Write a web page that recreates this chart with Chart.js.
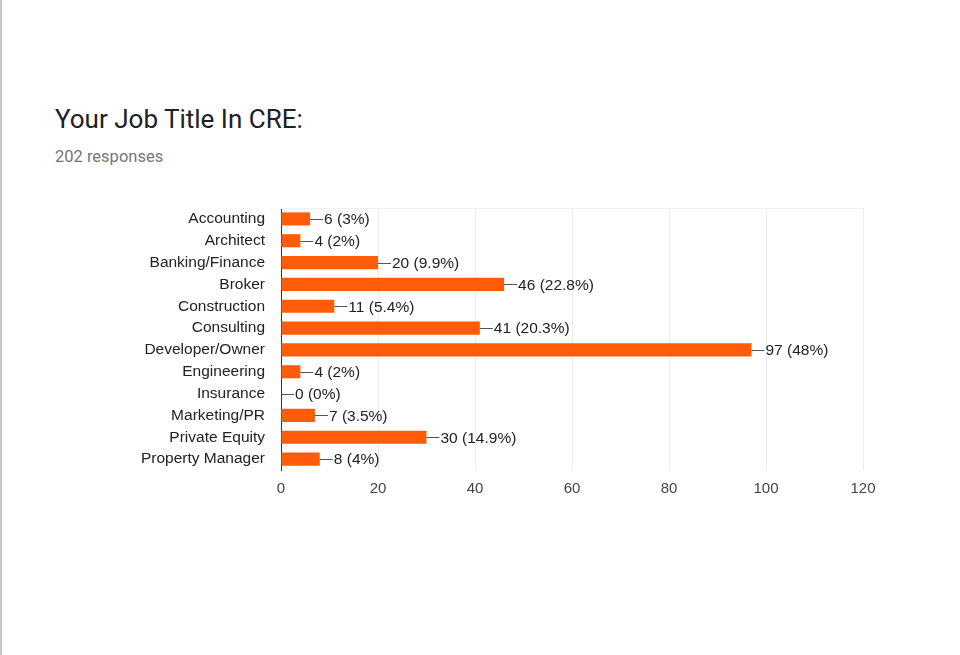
<!DOCTYPE html>
<html>
<head>
<meta charset="utf-8">
<title>Your Job Title In CRE:</title>
<script src="https://cdn.jsdelivr.net/npm/chart.js@4.4.1/dist/chart.umd.min.js"></script>
<style>
  html, body { margin: 0; padding: 0; background: #fff; }
  body { width: 960px; height: 655px; position: relative; overflow: hidden; }
  .edge { position: absolute; left: 0; top: 0; width: 2px; height: 655px; background: #c8c8c8; }
  .title { position: absolute; left: 55px; top: 104px; font: 26px Roboto, Arial, sans-serif; color: #202124; }
  .sub { position: absolute; left: 55px; top: 147px; font: 16.5px Roboto, Arial, sans-serif; color: #757575; }
  #wrap { position: absolute; left: 0; top: 0; width: 960px; height: 655px; }
</style>
</head>
<body>
<div class="edge"></div>
<div class="title">Your Job Title In CRE:</div>
<div class="sub">202 responses</div>
<div id="wrap"><canvas id="chart"></canvas></div>
<script>
const categories = ['Accounting', 'Architect', 'Banking/Finance', 'Broker', 'Construction', 'Consulting',
  'Developer/Owner', 'Engineering', 'Insurance', 'Marketing/PR', 'Private Equity', 'Property Manager'];
const counts = [6, 4, 20, 46, 11, 41, 97, 4, 0, 7, 30, 8];
const percents = ['3%', '2%', '9.9%', '22.8%', '5.4%', '20.3%', '48%', '2%', '0%', '3.5%', '14.9%', '4%'];
const xTicks = [0, 20, 40, 60, 80, 100, 120];

const FONT = 'Arial, "Liberation Sans", sans-serif';

// Leader line + "n (p%)" label at the end of each bar
const valueLabels = {
  id: 'valueLabels',
  afterDatasetsDraw(chart) {
    const ctx = chart.ctx;
    const meta = chart.getDatasetMeta(0);
    ctx.save();
    ctx.font = '15.5px ' + FONT;
    ctx.textBaseline = 'middle';
    ctx.textAlign = 'left';
    meta.data.forEach((bar, i) => {
      const x = bar.x;
      const y = bar.y;
      ctx.strokeStyle = '#555';
      ctx.lineWidth = 1;
      ctx.beginPath();
      ctx.moveTo(x, Math.round(y) + 0.5);
      ctx.lineTo(x + 13, Math.round(y) + 0.5);
      ctx.stroke();
      ctx.fillStyle = '#222';
      ctx.fillText(counts[i] + ' (' + percents[i] + ')', x + 14, y + 1);
    });
    ctx.restore();
  }
};

// faint frame line on top of the plot area
const frameLines = {
  id: 'frameLines',
  beforeDatasetsDraw(chart) {
    const { ctx, chartArea } = chart;
    ctx.save();
    ctx.strokeStyle = '#f0f0f0';
    ctx.lineWidth = 1;
    ctx.beginPath();
    ctx.moveTo(chartArea.left, chartArea.top + 0.5);
    ctx.lineTo(chartArea.right, chartArea.top + 0.5);
    ctx.stroke();
    ctx.restore();
  }
};

new Chart(document.getElementById('chart'), {
  type: 'bar',
  data: {
    labels: categories,
    datasets: [{
      data: counts,
      backgroundColor: '#ff5c0a',
      borderWidth: 0,
      categoryPercentage: 1,
      barPercentage: 0.6
    }]
  },
  options: {
    indexAxis: 'y',
    responsive: true,
    maintainAspectRatio: false,
    animation: false,
    layout: { padding: { left: 0, right: 97, top: 208, bottom: 155 } },
    plugins: {
      legend: { display: false },
      tooltip: { enabled: false }
    },
    scales: {
      x: {
        min: 0,
        max: 120,
        afterBuildTicks: (scale) => { scale.ticks = xTicks.map(v => ({ value: v })); },
        afterFit: (scale) => { scale.height = 30; },
        grid: { color: '#ececec', drawTicks: false },
        border: { display: false },
        ticks: { color: '#444', padding: 10, font: { size: 15, family: FONT } }
      },
      y: {
        afterFit: (scale) => { scale.width = 281; },
        grid: { display: false, drawTicks: false },
        border: { display: true, color: '#333', width: 1 },
        ticks: { color: '#222', padding: 16, font: { size: 15.5, family: FONT } }
      }
    }
  },
  plugins: [frameLines, valueLabels]
});
</script>
</body>
</html>
